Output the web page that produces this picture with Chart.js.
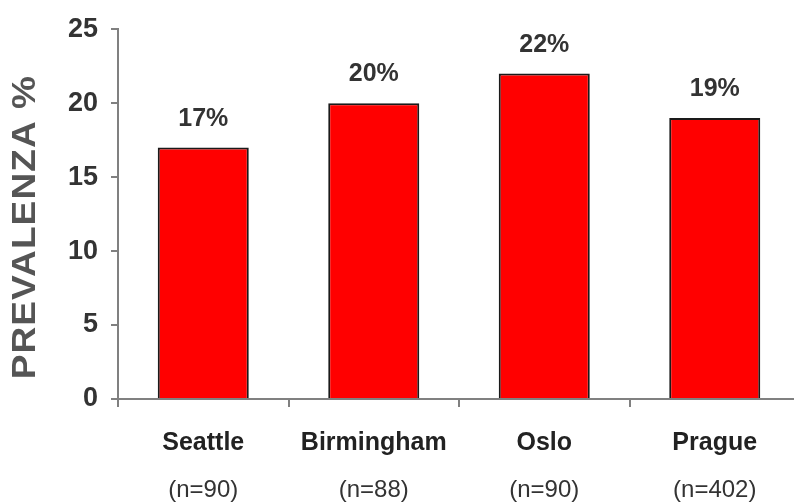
<!DOCTYPE html>
<html>
<head>
<meta charset="utf-8">
<script src="https://cdn.jsdelivr.net/npm/chart.js@4.4.1/dist/chart.umd.min.js"></script>
<style>
  html, body { margin: 0; padding: 0; background: #fff; overflow: hidden; }
</style>
</head>
<body>
<canvas id="prevChart" width="800" height="502"></canvas>
<script>
const cities = ['Seattle', 'Birmingham', 'Oslo', 'Prague'];
const sampleSizes = ['(n=90)', '(n=88)', '(n=90)', '(n=402)'];
const prevalence = [17, 20, 22, 19];
const yMin = 0;
const yMax = 25;
const yStep = 5;
const yTitle = 'PREVALENZA %';

const FONT = '"Liberation Sans", Arial, Helvetica, sans-serif';
const AXIS_GREY = '#808080';

// percentage printed above each bar
const valueLabels = {
    id: 'valueLabels',
    afterDatasetsDraw(chart) {
        const ctx = chart.ctx;
        const meta = chart.getDatasetMeta(0);
        ctx.save();
        ctx.font = 'bold 25px ' + FONT;
        ctx.fillStyle = '#333333';
        ctx.textAlign = 'center';
        ctx.textBaseline = 'alphabetic';
        meta.data.forEach((bar, i) => {
            ctx.fillText(prevalence[i] + '%', bar.x, bar.y - 22);
        });
        ctx.restore();
    }
};

// rotated y title in a wide, heavy face, a bit below the middle of the axis
const yAxisTitle = {
    id: 'yAxisTitle',
    afterDraw(chart) {
        const ctx = chart.ctx;
        const y = chart.scales.y;
        ctx.save();
        ctx.translate(26, (y.top + y.bottom) / 2 + 13);
        ctx.rotate(-Math.PI / 2);
        ctx.scale(1.12, 1);
        ctx.font = 'bold 33px ' + FONT;
        ctx.letterSpacing = '1px';
        ctx.fillStyle = '#555555';
        ctx.textAlign = 'center';
        ctx.textBaseline = 'middle';
        ctx.fillText(yTitle, 0, 0);
        ctx.restore();
    }
};

const ctx = document.getElementById('prevChart').getContext('2d');
new Chart(ctx, {
    type: 'bar',
    data: {
        labels: cities,
        datasets: [{
            data: prevalence,
            backgroundColor: '#ff0000',
            borderColor: '#1a1a1a',
            borderWidth: 2,
            borderSkipped: 'bottom',
            barPercentage: 0.534,
            categoryPercentage: 1
        }]
    },
    options: {
        responsive: false,
        animation: false,
        layout: { padding: { top: 22, left: 0, right: 0, bottom: 0 } },
        plugins: {
            legend: { display: false },
            tooltip: { enabled: false }
        },
        scales: {
            x: {
                offset: true,
                grid: { drawOnChartArea: false, offset: true, tickLength: 8, color: AXIS_GREY, lineWidth: 2 },
                border: { color: AXIS_GREY, width: 2 },
                ticks: { color: '#222222', padding: 21, font: { family: FONT, size: 25, weight: 'bold' } },
                afterFit(scale) { scale.height = 60; }
            },
            x2: {
                type: 'category',
                labels: sampleSizes,
                position: 'bottom',
                offset: true,
                grid: { display: false },
                border: { display: false },
                ticks: { color: '#333333', padding: 9, font: { family: FONT, size: 24 } },
                afterFit(scale) { scale.height = 43; }
            },
            y: {
                min: yMin,
                max: yMax,
                grid: { drawOnChartArea: false, tickLength: 7, color: AXIS_GREY, lineWidth: 2 },
                border: { color: AXIS_GREY, width: 2 },
                ticks: { stepSize: yStep, color: '#333333', padding: 13, font: { family: FONT, size: 27, weight: 'bold' } },
                afterFit(scale) { scale.width = 118; }
            }
        }
    },
    plugins: [valueLabels, yAxisTitle]
});
</script>
</body>
</html>
